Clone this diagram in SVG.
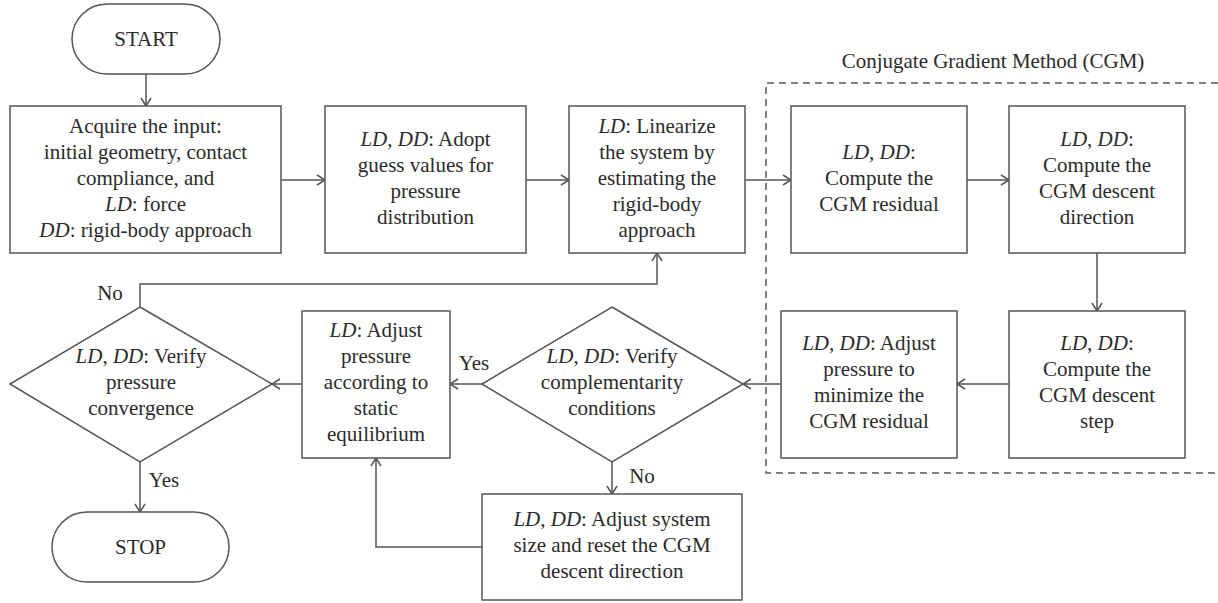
<svg xmlns="http://www.w3.org/2000/svg" width="1218" height="603" viewBox="0 0 1218 603">
<defs>
<style>
.n{fill:#fff;stroke:#555;stroke-width:1.5}
text{font-family:"Liberation Serif","Times New Roman",serif;font-size:21px;fill:#2b2b2b;text-anchor:middle}
.i{font-style:italic}
.c{fill:none;stroke:#555;stroke-width:1.5}
.d{fill:none;stroke:#555;stroke-width:1.5;stroke-dasharray:7,5}
</style>
<marker id="a" markerUnits="userSpaceOnUse" markerWidth="12" markerHeight="14" refX="9" refY="6" orient="auto">
<path d="M1,1 L9,6 L1,11" fill="none" stroke="#555" stroke-width="1.5"/>
</marker>
</defs>
<rect width="1218" height="603" fill="#fff"/>
<g id="cgm-group">
<path class="d" d="M1218,83 H766 V473 H1218"/>
<text x="993" y="68">Conjugate Gradient Method (CGM)</text>
</g>
<g id="connectors">
<path class="c" d="M146,74 V106" marker-end="url(#a)"/>
<path class="c" d="M281,180 H325" marker-end="url(#a)"/>
<path class="c" d="M526,180 H569" marker-end="url(#a)"/>
<path class="c" d="M745,180 H791" marker-end="url(#a)"/>
<path class="c" d="M967,180 H1009" marker-end="url(#a)"/>
<path class="c" d="M1097,253 V311" marker-end="url(#a)"/>
<path class="c" d="M1009,384 H957" marker-end="url(#a)"/>
<path class="c" d="M781,384 H743" marker-end="url(#a)"/>
<path class="c" d="M482,384 H450" marker-end="url(#a)"/>
<path class="c" d="M302,384 H272" marker-end="url(#a)"/>
<path class="c" d="M140,307 V284 H657 V253" marker-end="url(#a)"/>
<path class="c" d="M140,462 V512" marker-end="url(#a)"/>
<path class="c" d="M612,462 V494" marker-end="url(#a)"/>
<path class="c" d="M482,547 H376 V458" marker-end="url(#a)"/>
<text x="110" y="300">No</text>
<text x="164" y="487">Yes</text>
<text x="474" y="370">Yes</text>
<text x="642" y="483">No</text>
</g>
<g id="start">
<rect class="n" x="72" y="4" width="148" height="70" rx="35"/>
<text x="146" y="46">START</text>
</g>
<g id="input">
<rect class="n" x="10" y="106" width="271" height="147"/>
<text x="145.5" y="133">Acquire the input:</text>
<text x="145.5" y="159">initial geometry, contact</text>
<text x="145.5" y="185">compliance, and</text>
<text x="145.5" y="211"><tspan class="i">LD</tspan>: force</text>
<text x="145.5" y="237"><tspan class="i">DD</tspan>: rigid-body approach</text>
</g>
<g id="guess">
<rect class="n" x="325" y="106" width="201" height="147"/>
<text x="425.5" y="146"><tspan class="i">LD</tspan>, <tspan class="i">DD</tspan>: Adopt</text>
<text x="425.5" y="172">guess values for</text>
<text x="425.5" y="198">pressure</text>
<text x="425.5" y="224">distribution</text>
</g>
<g id="linearize">
<rect class="n" x="569" y="106" width="176" height="147"/>
<text x="657" y="133"><tspan class="i">LD</tspan>: Linearize</text>
<text x="657" y="159">the system by</text>
<text x="657" y="185">estimating the</text>
<text x="657" y="211">rigid-body</text>
<text x="657" y="237">approach</text>
</g>
<g id="residual">
<rect class="n" x="791" y="106" width="176" height="147"/>
<text x="879" y="159"><tspan class="i">LD</tspan>, <tspan class="i">DD</tspan>:</text>
<text x="879" y="185">Compute the</text>
<text x="879" y="211">CGM residual</text>
</g>
<g id="direction">
<rect class="n" x="1009" y="106" width="176" height="147"/>
<text x="1097" y="146"><tspan class="i">LD</tspan>, <tspan class="i">DD</tspan>:</text>
<text x="1097" y="172">Compute the</text>
<text x="1097" y="198">CGM descent</text>
<text x="1097" y="224">direction</text>
</g>
<g id="step">
<rect class="n" x="1009" y="311" width="176" height="147"/>
<text x="1097" y="350"><tspan class="i">LD</tspan>, <tspan class="i">DD</tspan>:</text>
<text x="1097" y="376">Compute the</text>
<text x="1097" y="402">CGM descent</text>
<text x="1097" y="428">step</text>
</g>
<g id="minimize">
<rect class="n" x="781" y="311" width="176" height="147"/>
<text x="869" y="350"><tspan class="i">LD</tspan>, <tspan class="i">DD</tspan>: Adjust</text>
<text x="869" y="376">pressure to</text>
<text x="869" y="402">minimize the</text>
<text x="869" y="428">CGM residual</text>
</g>
<g id="complementarity">
<polygon class="n" points="612,307 743,384 612,462 482,384"/>
<text x="612" y="363"><tspan class="i">LD</tspan>, <tspan class="i">DD</tspan>: Verify</text>
<text x="612" y="389">complementarity</text>
<text x="612" y="415">conditions</text>
</g>
<g id="equilibrium">
<rect class="n" x="302" y="311" width="148" height="147"/>
<text x="376" y="337"><tspan class="i">LD</tspan>: Adjust</text>
<text x="376" y="363">pressure</text>
<text x="376" y="389">according to</text>
<text x="376" y="415">static</text>
<text x="376" y="441">equilibrium</text>
</g>
<g id="convergence">
<polygon class="n" points="140,307 272,384 140,462 10,384"/>
<text x="141" y="363"><tspan class="i">LD</tspan>, <tspan class="i">DD</tspan>: Verify</text>
<text x="141" y="389">pressure</text>
<text x="141" y="415">convergence</text>
</g>
<g id="resize">
<rect class="n" x="482" y="494" width="260" height="106"/>
<text x="612" y="526"><tspan class="i">LD</tspan>, <tspan class="i">DD</tspan>: Adjust system</text>
<text x="612" y="552">size and reset the CGM</text>
<text x="612" y="578">descent direction</text>
</g>
<g id="stop">
<rect class="n" x="52" y="512" width="177" height="70" rx="35"/>
<text x="140.5" y="554">STOP</text>
</g>
</svg>
